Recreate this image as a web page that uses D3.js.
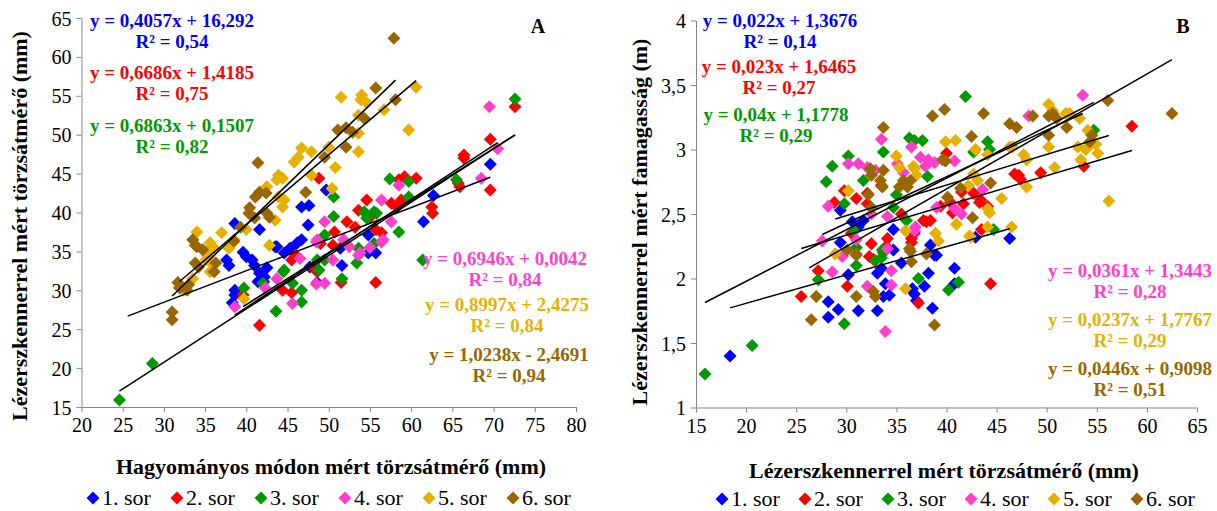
<!DOCTYPE html>
<html><head><meta charset="utf-8">
<script src="https://cdn.jsdelivr.net/npm/d3@7"></script>
<style>body{margin:0;background:#fff}svg text{font-family:"Liberation Serif","Times New Roman",serif}</style>
</head><body><svg id="c" width="1217" height="511"></svg>
<script>
const seriesNames = ["1. sor","2. sor","3. sor","4. sor","5. sor","6. sor"];
const colors = ["#0000FF","#FF0000","#009A00","#FF3FCC","#E6B000","#996600"];
const xTicksA = [20,25,30,35,40,45,50,55,60,65,70,75,80];
const yTicksA = [15,20,25,30,35,40,45,50,55,60,65];
const xTicksB = [15,20,25,30,35,40,45,50,55,60,65];
const yTicksB = [1,1.5,2,2.5,3,3.5,4];

// Panel A: hagyományos (x) vs lézer (y) törzsátmérő
const a1 = [[37.6,33.9],[37.9,33.2],[38.3,28.4],[38.6,29.4],[38.6,30.0],[38.6,38.6],[39.6,34.9],[40.0,34.3],[40.7,33.9],[41.0,33.2],[41.4,31.1],[41.6,32.2],[41.6,37.8],[42.1,31.1],[42.2,31.7],[42.5,32.9],[43.5,35.6],[43.7,35.6],[44.6,34.8],[45.3,35.4],[45.5,35.4],[46.2,36.1],[46.7,36.5],[46.7,40.7],[47.5,38.4],[47.6,40.9],[47.7,33.0],[48.6,31.0],[49.7,42.9],[51.4,35.4],[51.6,33.2],[54.8,37.1],[54.8,34.8],[55.7,34.8],[61.5,38.8],[62.7,42.2],[69.6,46.2]];
const a2 = [[39.6,29.4],[41.6,25.5],[44.4,30.0],[45.5,29.7],[45.5,33.9],[46.0,34.5],[48.1,33.0],[48.6,32.4],[48.8,44.4],[49.0,36.0],[50.5,35.8],[50.7,37.5],[51.5,31.0],[52.2,38.8],[53.2,38.1],[53.6,40.3],[54.6,41.6],[55.0,39.4],[55.7,37.8],[55.7,31.0],[56.4,37.4],[57.6,41.2],[58.3,40.7],[58.5,44.2],[58.8,41.6],[59.2,44.6],[60.6,44.4],[62.5,40.7],[62.6,39.9],[65.7,43.8],[65.9,43.3],[66.4,47.4],[66.4,47.0],[69.6,49.4],[69.6,42.9],[72.6,53.6]];
const a3 = [[24.6,15.9],[28.6,20.6],[39.7,30.3],[42.0,30.9],[43.6,27.3],[44.5,32.4],[44.6,32.6],[45.6,30.9],[46.7,30.0],[46.7,28.5],[48.6,33.9],[48.8,32.6],[49.5,33.9],[49.5,37.1],[50.6,42.0],[50.6,39.5],[51.6,31.5],[53.4,33.5],[53.6,35.4],[54.3,40.1],[54.6,39.3],[55.5,40.1],[55.5,36.0],[55.8,39.9],[57.4,44.3],[58.5,37.5],[59.7,44.0],[59.7,42.0],[61.4,33.9],[65.5,44.2],[72.6,54.6]];
const a4 = [[38.6,27.9],[42.3,30.3],[43.7,31.5],[45.6,28.3],[46.5,34.1],[48.5,36.2],[48.5,30.8],[48.6,36.5],[49.5,38.8],[49.5,30.9],[50.5,33.9],[51.8,36.5],[52.5,35.6],[53.6,34.5],[53.8,34.8],[55.0,35.5],[56.4,36.2],[56.4,41.6],[56.6,36.5],[57.6,38.8],[58.5,43.5],[68.5,44.4],[69.5,53.6],[70.5,48.2]];
const a5 = [[31.9,30.4],[32.4,30.0],[33.5,31.5],[34.0,37.5],[35.1,33.9],[35.4,34.3],[35.6,32.4],[35.8,33.5],[35.4,35.2],[35.6,36.1],[36.1,35.4],[37.0,37.4],[37.9,35.4],[38.5,36.5],[39.7,28.9],[40.0,37.8],[41.6,42.6],[42.5,43.3],[42.8,35.8],[43.5,39.0],[43.9,42.0],[44.4,40.7],[44.6,41.6],[43.7,44.2],[43.9,44.8],[44.4,44.4],[45.8,46.5],[46.3,47.1],[46.7,48.3],[47.9,47.8],[47.9,44.8],[50.0,48.4],[50.4,43.1],[50.8,45.8],[51.5,54.8],[53.6,47.8],[53.6,50.2],[53.6,52.5],[54.0,55.1],[53.9,54.5],[54.6,54.1],[56.7,53.2],[59.7,50.6],[60.6,56.1]];
const a6 = [[31.0,26.2],[31.0,27.2],[31.7,31.0],[31.9,30.3],[32.8,30.0],[33.0,30.7],[33.5,36.5],[33.8,35.8],[33.8,33.5],[34.2,33.0],[34.0,35.6],[34.7,35.2],[36.1,32.4],[36.3,33.5],[38.5,36.3],[39.3,38.1],[40.3,39.9],[40.4,40.6],[41.0,39.3],[41.1,42.0],[41.4,46.4],[41.6,42.6],[42.4,42.5],[42.5,39.9],[42.8,39.4],[47.2,42.6],[49.5,47.1],[51.1,50.6],[52.1,50.9],[52.1,48.4],[52.9,50.3],[54.3,52.1],[55.7,56.0],[58.1,54.5],[57.9,62.4]];
const slopesA = [0.4057,0.6686,0.6863,0.6946,0.8997,1.0238];
const interceptsA = [16.292,1.4185,0.1507,0.0042,2.4275,-2.4691];
const trendRangeA = [[25.6,69.6],[39.6,72.6],[24.6,72.6],[38.6,70.5],[31.9,60.6],[31.0,58.1]];
const eqLabelsA = ["y = 0,4057x + 16,292","y = 0,6686x + 1,4185","y = 0,6863x + 0,1507","y = 0,6946x + 0,0042","y = 0,8997x + 2,4275","y = 1,0238x - 2,4691"];
const r2LabelsA = ["R² = 0,54","R² = 0,75","R² = 0,82","R² = 0,84","R² = 0,84","R² = 0,94"];

// Panel B: lézer törzsátmérő (x) vs lézer famagasság (y)
const b1 = [[18.4,1.40],[28.2,1.82],[28.2,1.70],[29.2,1.76],[29.4,2.28],[29.4,2.53],[30.2,2.03],[30.6,2.44],[31.2,1.75],[31.2,2.40],[31.7,2.45],[33.1,1.75],[33.1,2.04],[33.5,2.08],[33.7,1.86],[33.9,1.96],[34.3,1.87],[34.7,2.22],[34.7,2.38],[35.5,2.12],[36.5,1.91],[36.6,1.92],[36.8,1.88],[37.0,1.83],[37.8,1.94],[38.2,2.04],[38.4,2.26],[38.6,1.77],[38.8,2.18],[39.0,2.18],[40.8,2.08],[40.8,1.96],[42.9,2.32],[46.3,2.31]];
const b2 = [[25.5,1.86],[27.2,2.06],[28.8,2.59],[29.8,2.68],[30.1,1.94],[30.5,2.35],[31.0,2.62],[32.1,2.66],[32.1,2.58],[32.3,2.17],[32.5,2.27],[32.7,2.15],[33.5,2.72],[34.0,2.25],[34.1,2.31],[35.5,2.50],[36.5,2.28],[36.5,2.31],[36.8,2.35],[37.2,1.81],[37.7,2.45],[38.0,2.44],[38.4,2.45],[39.4,2.56],[40.0,2.97],[40.4,2.59],[40.6,2.51],[41.5,2.67],[41.7,2.58],[42.7,2.66],[43.3,2.59],[43.4,2.61],[43.5,2.38],[44.1,2.56],[44.4,1.96],[46.8,2.81],[47.2,2.80],[47.4,2.77],[49.4,2.82],[53.7,2.87],[58.5,3.18]];
const b3 = [[15.9,1.26],[20.6,1.48],[27.2,1.99],[28.0,2.75],[28.6,2.87],[29.8,2.58],[29.8,1.65],[30.2,2.95],[30.8,2.37],[31.0,2.10],[31.0,2.24],[31.7,2.76],[32.9,2.14],[33.5,2.16],[33.6,2.22],[33.7,2.20],[33.7,2.98],[34.7,2.55],[35.0,2.65],[36.0,2.45],[36.3,3.09],[36.8,3.07],[37.2,2.00],[37.6,3.07],[38.1,2.79],[40.2,1.91],[41.2,1.97],[41.9,3.41],[42.7,2.98],[44.1,3.06],[44.3,3.00],[44.7,2.38],[54.7,3.15]];
const b4 = [[27.6,2.29],[28.2,2.56],[28.6,2.05],[29.6,2.17],[30.2,2.89],[31.0,2.30],[31.2,2.89],[32.1,1.94],[32.1,2.86],[32.5,2.50],[32.9,2.84],[33.5,3.08],[33.9,1.59],[34.1,2.23],[34.1,2.48],[34.5,2.06],[34.5,1.95],[35.1,2.89],[35.7,2.82],[36.5,3.02],[36.8,2.37],[36.9,2.40],[37.4,2.94],[37.9,2.87],[38.2,2.92],[38.8,2.90],[39.0,2.55],[40.8,2.91],[40.8,2.54],[41.5,2.50],[43.6,2.69],[48.2,3.26],[53.6,3.42]];
const b5 = [[28.9,2.19],[30.2,2.68],[35.0,2.95],[35.3,2.86],[35.9,1.92],[35.9,2.37],[36.7,2.87],[36.8,2.85],[37.0,2.80],[38.9,2.35],[39.2,2.29],[39.9,3.06],[40.9,3.07],[41.0,2.42],[42.2,2.72],[42.3,2.33],[42.4,2.32],[42.7,2.81],[42.9,3.00],[43.1,2.76],[44.1,2.54],[44.1,2.96],[44.3,2.51],[44.1,2.40],[45.5,2.62],[46.3,3.02],[46.5,2.40],[46.6,3.02],[47.7,2.96],[48.0,2.92],[48.0,2.71],[50.2,3.35],[50.2,3.02],[50.6,3.30],[50.8,2.86],[51.9,3.28],[52.3,3.28],[53.1,3.02],[53.3,3.24],[53.4,2.92],[53.9,3.00],[54.1,3.15],[54.1,3.02],[54.9,3.04],[55.1,2.97],[56.2,2.60]];
const b6 = [[26.5,1.68],[27.0,1.86],[30.1,2.22],[31.0,2.18],[31.0,1.86],[31.0,2.19],[32.2,2.65],[32.4,2.85],[32.5,2.55],[32.5,2.80],[32.7,1.90],[32.9,1.86],[33.4,2.76],[33.6,2.71],[33.7,3.17],[33.7,2.84],[35.3,2.71],[35.7,2.76],[36.1,2.71],[36.3,2.23],[36.4,2.76],[36.4,2.21],[36.5,2.13],[38.0,2.19],[38.6,3.26],[38.8,1.64],[39.6,2.92],[39.8,3.31],[39.9,2.91],[40.1,2.63],[41.4,2.70],[42.5,3.10],[42.6,2.47],[43.7,3.28],[44.4,2.74],[46.3,3.20],[47.0,3.17],[48.6,3.26],[50.2,3.26],[50.2,3.11],[50.6,3.28],[51.0,3.24],[52.0,3.17],[54.3,3.06],[54.5,3.11],[56.1,3.38],[62.5,3.28]];
const slopesB = [0.022,0.023,0.04,0.0361,0.0237,0.0446];
const interceptsB = [1.3676,1.6465,1.1778,1.3443,1.7767,0.9098];
const trendRangeB = [[18.4,46.3],[25.5,58.5],[15.9,54.7],[27.6,53.6],[28.9,56.2],[26.3,62.5]];
const eqLabelsB = ["y = 0,022x + 1,3676","y = 0,023x + 1,6465","y = 0,04x + 1,1778","y = 0,0361x + 1,3443","y = 0,0237x + 1,7767","y = 0,0446x + 0,9098"];
const r2LabelsB = ["R² = 0,14","R² = 0,27","R² = 0,29","R² = 0,28","R² = 0,29","R² = 0,51"];

const svg = d3.select("#c");
const diamond = "M0,-6.5L6.5,0L0,6.5L-6.5,0Z";
const fmt = v => String(v).replace(".", ",");

function panel(cfg) {
  const x = d3.scaleLinear().domain(cfg.xDom).range(cfg.xRange);
  const y = d3.scaleLinear().domain(cfg.yDom).range(cfg.yRange);
  const g = svg.append("g");
  const ax = g.append("g").attr("transform", `translate(0,${cfg.yRange[0]})`)
    .call(d3.axisBottom(x).tickValues(cfg.xTicks).tickSize(5).tickSizeOuter(0).tickPadding(6).tickFormat(fmt));
  const ay = g.append("g").attr("transform", `translate(${cfg.xRange[0]},0)`)
    .call(d3.axisLeft(y).tickValues(cfg.yTicks).tickSize(5).tickSizeOuter(0).tickPadding(5).tickFormat(fmt));
  [ax, ay].forEach(a => {
    a.select(".domain").attr("stroke", "#868686");
    a.selectAll(".tick line").attr("stroke", "#868686");
    a.selectAll(".tick text").attr("fill", "#000").style("font-size", "20px")
      .style("font-family", '"Liberation Serif",serif');
  });
  ay.selectAll(".tick text").attr("dy", "0.35em");
  cfg.data.forEach((s, i) => {
    g.append("g").selectAll("path").data(s).join("path")
      .attr("d", diamond).attr("fill", colors[i])
      .attr("transform", d => `translate(${x(d[0])},${y(d[1])})`);
  });
  cfg.data.forEach((s, i) => {
    const [x0, x1] = cfg.ranges[i];
    g.append("line")
      .attr("x1", x(x0)).attr("y1", y(cfg.slopes[i] * x0 + cfg.inter[i]))
      .attr("x2", x(x1)).attr("y2", y(cfg.slopes[i] * x1 + cfg.inter[i]))
      .attr("stroke", "#000").attr("stroke-width", 1.5);
  });
  cfg.eqPos.forEach((p, i) => {
    g.append("text").attr("x", p[0]).attr("y", p[1]).attr("text-anchor", "middle")
      .attr("fill", colors[i]).style("font-size", "19px").style("font-weight", "bold").text(cfg.eq[i]);
    g.append("text").attr("x", p[0]).attr("y", p[1] + 21).attr("text-anchor", "middle")
      .attr("fill", colors[i]).style("font-size", "19px").style("font-weight", "bold").text(cfg.r2[i]);
  });
  g.append("text").attr("x", cfg.letterPos[0]).attr("y", cfg.letterPos[1]).attr("text-anchor", "middle")
    .style("font-size", "20px").style("font-weight", "bold").text(cfg.letter);
  g.append("text").attr("x", cfg.xTitlePos[0]).attr("y", cfg.xTitlePos[1]).attr("text-anchor", "middle")
    .style("font-size", "22px").style("font-weight", "bold").text(cfg.xTitle);
  g.append("text").attr("transform", `translate(${cfg.yTitlePos[0]},${cfg.yTitlePos[1]}) rotate(-90)`)
    .attr("text-anchor", "middle").style("font-size", "22px").style("font-weight", "bold").text(cfg.yTitle);
  const lg = g.append("g");
  seriesNames.forEach((n, i) => {
    const lx = cfg.legendX + i * cfg.legendStep;
    lg.append("path").attr("d", diamond).attr("fill", colors[i])
      .attr("transform", `translate(${lx},${cfg.legendY - 7})`);
    lg.append("text").attr("x", lx + 9).attr("y", cfg.legendY).style("font-size", "22px").text(n);
  });
}

panel({
  xDom: [20, 80], xRange: [81.5, 576], yDom: [15, 65], yRange: [407, 18],
  xTicks: xTicksA, yTicks: yTicksA, data: [a1, a2, a3, a4, a5, a6],
  slopes: slopesA, inter: interceptsA, ranges: trendRangeA, eq: eqLabelsA, r2: r2LabelsA,
  eqPos: [[172, 27], [172, 79], [172, 132], [505, 265], [507, 311], [509, 361]],
  letter: "A", letterPos: [538, 33],
  xTitle: "Hagyományos módon mért törzsátmérő (mm)", xTitlePos: [331, 474],
  yTitle: "Lézerszkennerrel mért törzsátmérő (mm)", yTitlePos: [27, 226],
  legendX: 93, legendStep: 84, legendY: 505
});
panel({
  xDom: [15, 65], xRange: [696, 1197], yDom: [1, 4], yRange: [407.5, 20.5],
  xTicks: xTicksB, yTicks: yTicksB, data: [b1, b2, b3, b4, b5, b6],
  slopes: slopesB, inter: interceptsB, ranges: trendRangeB, eq: eqLabelsB, r2: r2LabelsB,
  eqPos: [[780, 27], [779, 73], [776, 121], [1130, 277], [1130, 326], [1130, 375]],
  letter: "B", letterPos: [1183, 33],
  xTitle: "Lézerszkennerrel mért törzsátmérő (mm)", xTitlePos: [944, 478],
  yTitle: "Lézerszkennerrel mért famagasság (m)", yTitlePos: [647, 222],
  legendX: 722, legendStep: 83, legendY: 506
});
</script></body></html>
